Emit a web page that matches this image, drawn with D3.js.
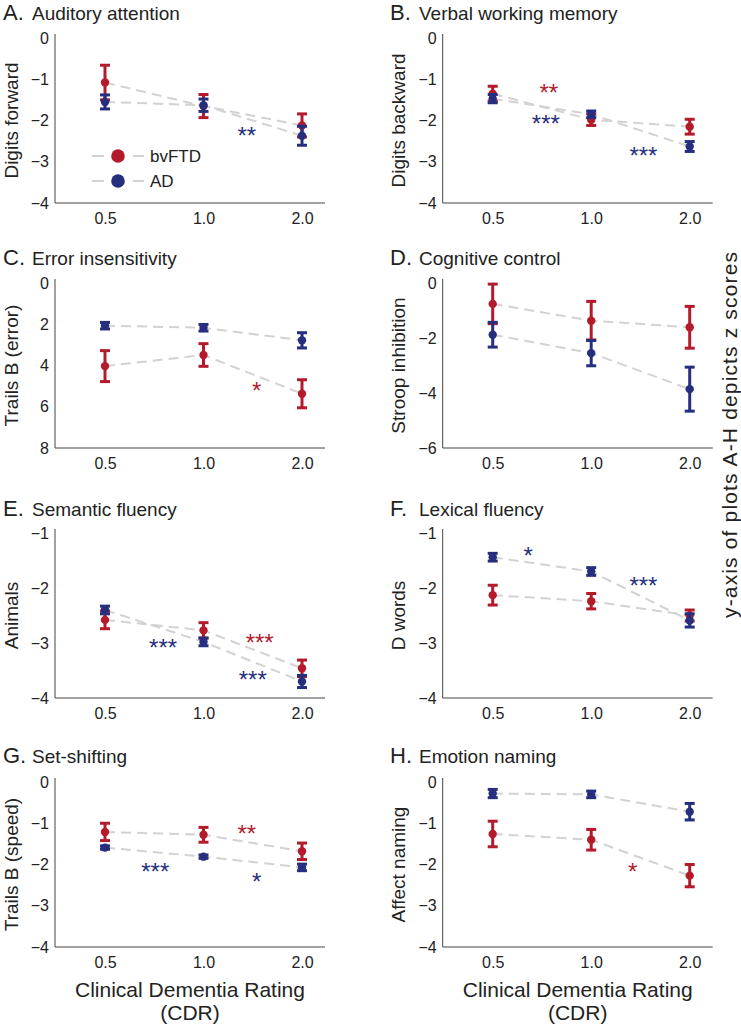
<!DOCTYPE html>
<html><head><meta charset="utf-8">
<script src="https://cdn.jsdelivr.net/npm/d3@7"></script>
<style>body{margin:0;background:#fff} svg{display:block;font-family:"Liberation Sans",Arial,sans-serif}</style>
</head><body><svg id="c" width="741" height="1028"></svg>
<script>
// ---------- data ----------
const cdrLevels = ["0.5", "1.0", "2.0"];
const groups = ["bvFTD", "AD"];
const panelLetters = ["A.", "B.", "C.", "D.", "E.", "F.", "G.", "H."];
const panelTitles = ["Auditory attention", "Verbal working memory", "Error insensitivity", "Cognitive control",
  "Semantic fluency", "Lexical fluency", "Set-shifting", "Emotion naming"];
const yLabels = ["Digits forward", "Digits backward", "Trails B (error)", "Stroop inhibition",
  "Animals", "D words", "Trails B (speed)", "Affect naming"];
const yTicks = [
  [0, -1, -2, -3, -4], [0, -1, -2, -3, -4], [0, 2, 4, 6, 8], [0, -2, -4, -6],
  [-1, -2, -3, -4], [-1, -2, -3, -4], [0, -1, -2, -3, -4], [0, -1, -2, -3, -4]];
const bvftdMean = [
  [-1.08, -1.65, -2.12], [-1.35, -1.98, -2.15], [4.03, 3.49, 5.37], [-0.76, -1.37, -1.61],
  [-2.58, -2.77, -3.46], [-2.13, -2.24, -2.50], [-1.21, -1.28, -1.68], [-1.26, -1.40, -2.27]];
const bvftdErr = [
  [0.42, 0.28, 0.28], [0.18, 0.14, 0.18], [0.75, 0.55, 0.68], [0.72, 0.70, 0.76],
  [0.16, 0.14, 0.15], [0.18, 0.14, 0.10], [0.21, 0.18, 0.20], [0.31, 0.25, 0.27]];
const adMean = [
  [-1.55, -1.63, -2.37], [-1.47, -1.85, -2.63], [2.07, 2.17, 2.78], [-1.88, -2.55, -3.86],
  [-2.40, -2.98, -3.70], [-1.44, -1.70, -2.59], [-1.59, -1.81, -2.07], [-0.28, -0.30, -0.72]];
const adErr = [
  [0.17, 0.15, 0.23], [0.10, 0.08, 0.12], [0.16, 0.16, 0.37], [0.45, 0.46, 0.80],
  [0.07, 0.07, 0.11], [0.07, 0.07, 0.12], [0.04, 0.04, 0.08], [0.10, 0.08, 0.20]];
// significance markers: panel index, group, position (in CDR steps from 0.5), y value, text
const starPanel = [0, 1, 1, 1, 2, 4, 4, 4, 5, 5, 6, 6, 6, 7];
const starGroup = ["AD", "bvFTD", "AD", "AD", "bvFTD", "AD", "bvFTD", "AD", "AD", "AD", "bvFTD", "AD", "AD", "bvFTD"];
const starPos = [1.44, 0.57, 0.54, 1.53, 1.54, 0.59, 1.57, 1.50, 0.36, 1.53, 1.44, 0.51, 1.54, 1.42];
const starY = [-2.24, -1.20, -1.95, -2.73, 4.96, -2.98, -2.89, -3.56, -1.31, -1.86, -1.12, -2.04, -2.28, -2.04];
const starText = ["**", "**", "***", "***", "*", "***", "***", "***", "*", "***", "**", "***", "*", "*"];
const xTitle = ["Clinical Dementia Rating", "(CDR)"];
const sideLabel = "y-axis of plots A-H depicts z scores";

// ---------- layout / style ----------
const colors = {bvFTD: "#b31b2d", AD: "#262f7e"};
const axisX = [55, 442.7];
const panelTop = [38, 283, 533, 782];
const titleBase = [20, 265, 516, 763];
const plotW = 270, plotH = 165;
const svg = d3.select("#c");

const means = {bvFTD: bvftdMean, AD: adMean};
const errs = {bvFTD: bvftdErr, AD: adErr};

for (let p = 0; p < 8; p++) {
  const col = p % 2, row = Math.floor(p / 2);
  const ox = axisX[col], top = panelTop[row];
  const g = svg.append("g");
  const x = d3.scalePoint().domain(cdrLevels).range([ox + 50, ox + 247]);
  const ticks = yTicks[p];
  const y = d3.scaleLinear().domain([ticks[0], ticks[ticks.length - 1]]).range([top, top + plotH]);

  // title
  const t = g.append("text").attr("y", titleBase[row]).attr("fill", "#222");
  t.append("tspan").attr("x", col ? 390 : 3).attr("font-size", 22).text(panelLetters[p]);
  t.append("tspan").attr("x", col ? 419 : 32).attr("font-size", 19).text(panelTitles[p]);

  // axes
  const yAxis = d3.axisLeft(y).tickValues(ticks).tickSize(0).tickPadding(6)
    .tickFormat(d3.format("d"));
  const ya = g.append("g").attr("transform", `translate(${ox},0)`).call(yAxis);
  ya.select(".domain").remove();
  ya.selectAll("text").attr("font-size", 16).attr("fill", "#222").attr("font-family", "Liberation Sans, Arial, sans-serif");
  g.append("line").attr("x1", ox).attr("x2", ox).attr("y1", top - 4).attr("y2", top + plotH)
    .attr("stroke", "#444").attr("stroke-width", 1);
  const xAxis = d3.axisBottom(x).tickSize(0).tickPadding(10);
  const xa = g.append("g").attr("transform", `translate(0,${top + plotH})`).call(xAxis);
  xa.select(".domain").remove();
  xa.selectAll("text").attr("font-size", 16).attr("fill", "#222").attr("font-family", "Liberation Sans, Arial, sans-serif");
  g.append("line").attr("x1", ox).attr("x2", ox + plotW).attr("y1", top + plotH).attr("y2", top + plotH)
    .attr("stroke", "#444").attr("stroke-width", 1);

  // y label
  g.append("text").attr("transform", `translate(${col ? 405 : 18},${top + plotH / 2}) rotate(-90)`)
    .attr("text-anchor", "middle").attr("font-size", 19).attr("fill", "#222").text(yLabels[p]);

  // dashed connecting lines
  const line = d3.line().x((d, i) => x(cdrLevels[i])).y(d => y(d));
  groups.forEach(gr => {
    g.append("path").datum(means[gr][p]).attr("d", line).attr("fill", "none")
      .attr("stroke", "#d2d2d2").attr("stroke-width", 2).attr("stroke-dasharray", "10,6");
  });

  // error bars and points
  groups.forEach(gr => {
    const c = colors[gr];
    const m = means[gr][p], e = errs[gr][p];
    cdrLevels.forEach((lv, i) => {
      const cx = x(lv);
      const y1 = y(m[i] + e[i]), y2 = y(m[i] - e[i]);
      g.append("line").attr("x1", cx).attr("x2", cx).attr("y1", y1).attr("y2", y2)
        .attr("stroke", c).attr("stroke-width", 3);
      [y1, y2].forEach(yy => g.append("line").attr("x1", cx - 5).attr("x2", cx + 5)
        .attr("y1", yy).attr("y2", yy).attr("stroke", c).attr("stroke-width", 3));
      g.append("circle").attr("cx", cx).attr("cy", y(m[i])).attr("r", 4.2).attr("fill", c);
    });
  });

  // stars
  starPanel.forEach((sp, k) => {
    if (sp !== p) return;
    const sx = x(cdrLevels[0]) + starPos[k] * x.step();
    g.append("text").attr("x", sx).attr("y", y(starY[k]) + 13.7)
      .attr("text-anchor", "middle").attr("font-size", 24).attr("fill", colors[starGroup[k]])
      .text(starText[k]);
  });

  // legend in panel A
  if (p === 0) {
    groups.forEach((gr, i) => {
      const ly = 156 + i * 25;
      g.append("line").attr("x1", 92).attr("x2", 104).attr("y1", ly).attr("y2", ly)
        .attr("stroke", "#d2d2d2").attr("stroke-width", 2);
      g.append("line").attr("x1", 133).attr("x2", 144).attr("y1", ly).attr("y2", ly)
        .attr("stroke", "#d2d2d2").attr("stroke-width", 2);
      g.append("circle").attr("cx", 118).attr("cy", ly).attr("r", 6.8).attr("fill", colors[gr]);
      g.append("text").attr("x", 150).attr("y", ly + 6).attr("font-size", 17).attr("fill", "#222").text(gr);
    });
  }

  // x titles under bottom row
  if (row === 3) {
    xTitle.forEach((s, i) => {
      g.append("text").attr("x", ox + plotW / 2).attr("y", 997 + i * 23).attr("text-anchor", "middle")
        .attr("font-size", 21).attr("fill", "#222").text(s);
    });
  }
}

svg.append("text").attr("transform", "translate(737,435) rotate(-90)")
  .attr("text-anchor", "middle").attr("font-size", 21).attr("fill", "#222")
  .attr("textLength", 366).attr("lengthAdjust", "spacing").text(sideLabel);
</script></body></html>
